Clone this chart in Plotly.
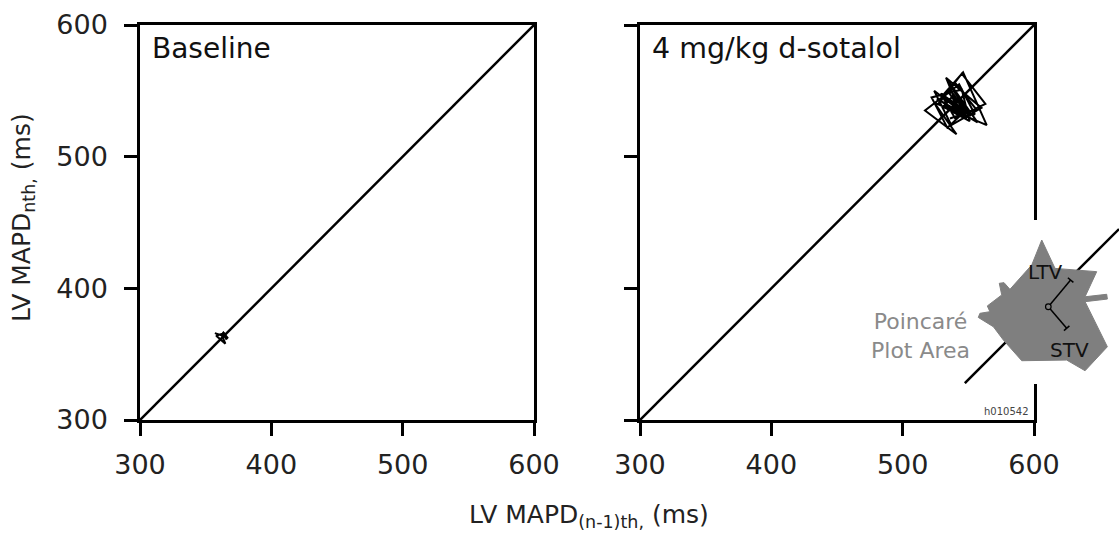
import plotly.graph_objects as go

# ---- data -------------------------------------------------------------
# consecutive LV MAPD values (ms); each point is (MAPD[n-1], MAPD[n])
baseline_mapd = [357, 366, 363, 367, 362, 365, 358, 364, 366, 362, 365, 363, 366, 361]
sotalol_mapd = [538, 552, 531, 545, 563, 540, 529, 548, 535, 557, 526, 544, 533,
                560, 537, 524, 550, 530, 546, 564, 524, 541, 517, 535, 549, 528,
                543, 555, 532, 539, 547, 534, 522, 545, 551, 527, 540, 556, 536, 529]

axis_ticks = [300, 400, 500, 600]
axis_range = [300, 600]

# schematic Poincaré area (inset units 0-10)
area_u = [5.29, 6.10, 8.64, 7.93, 9.25, 9.29, 7.93, 9.29, 7.93, 6.81, 4.07, 2.95,
          2.34, 1.42, 1.52, 2.13, 1.97, 2.85, 2.70, 2.99, 3.35, 4.68]
area_v = [8.78, 7.05, 6.85, 5.32, 5.47, 5.18, 5.02, 2.27, 0.81, 1.46, 1.42, 2.68,
          3.49, 4.06, 4.31, 4.41, 4.76, 5.43, 6.14, 6.18, 5.77, 7.26]
identity_u = [0.6, 10.0]
identity_v = [0.05, 9.45]
centre_uv = (5.69, 4.71)
ltv_end = (7.05, 6.34)
stv_end = (6.81, 3.40)

FONT = "DejaVu Sans"
W, H = 1119, 539


def px(x):
    return x / W


def py(y):
    return 1 - y / H


fig = go.Figure()

for mapd, xa, ya in [(baseline_mapd, "x", "y"), (sotalol_mapd, "x2", "y2")]:
    # line of identity
    fig.add_trace(go.Scatter(x=axis_range, y=axis_range, mode="lines",
                             line=dict(color="black", width=2.5),
                             xaxis=xa, yaxis=ya, hoverinfo="skip"))
    fig.add_trace(go.Scatter(x=mapd[:-1], y=mapd[1:], mode="lines",
                             line=dict(color="black", width=2),
                             xaxis=xa, yaxis=ya))

axis_common = dict(range=axis_range, tickvals=axis_ticks, showgrid=False,
                   zeroline=False, showline=True, mirror=True, automargin=False,
                   linecolor="black", linewidth=2.5, ticks="outside",
                   ticklen=13, tickwidth=2.5, tickcolor="black",
                   tickfont=dict(family=FONT, size=27, color="#222"))

fig.update_layout(
    width=W, height=H,
    margin=dict(l=0, r=0, t=0, b=0, pad=0, autoexpand=False),
    paper_bgcolor="white", plot_bgcolor="white",
    showlegend=False,
    xaxis=dict(domain=[px(140), px(534)], anchor="y", ticklabelstandoff=6, **axis_common),
    yaxis=dict(domain=[py(420), py(25)], anchor="x", ticklabelstandoff=11, **axis_common),
    xaxis2=dict(domain=[px(640), px(1034)], anchor="y2", ticklabelstandoff=6, **axis_common),
    yaxis2=dict(domain=[py(420), py(25)], anchor="x2", showticklabels=False, **axis_common),
    xaxis3=dict(domain=[px(955), 1.0], range=[0, 10], anchor="y3", visible=False),
    yaxis3=dict(domain=[py(384), py(220)], range=[0, 10], anchor="x3", visible=False),
)
fig.add_trace(go.Scatter(x=[], y=[], xaxis="x3", yaxis="y3"))

# ---- inset schematic ---------------------------------------------------
shapes = []
# gap in the right-hand frame behind the schematic
shapes.append(dict(type="rect", xref="paper", yref="paper", layer="above",
                   x0=px(1028), x1=px(1040), y0=py(372), y1=py(227),
                   fillcolor="white", line=dict(width=0)))
shapes.append(dict(type="line", xref="x3", yref="y3", layer="above",
                   x0=identity_u[0], y0=identity_v[0], x1=identity_u[1], y1=identity_v[1],
                   line=dict(color="black", width=2.5)))
path = "M " + " L ".join(f"{u},{v}" for u, v in zip(area_u, area_v)) + " Z"
shapes.append(dict(type="path", xref="x3", yref="y3", layer="above", path=path,
                   fillcolor="#7f7f7f", line=dict(color="#7f7f7f", width=1)))
cu, cv = centre_uv
for eu, ev in (ltv_end, stv_end):
    shapes.append(dict(type="line", xref="x3", yref="y3", layer="above",
                       x0=cu, y0=cv, x1=eu, y1=ev, line=dict(color="black", width=1.5)))
    du, dv = eu - cu, ev - cv
    n = (du ** 2 + dv ** 2) ** 0.5
    pu, pv = -dv / n * 0.22, du / n * 0.22
    shapes.append(dict(type="line", xref="x3", yref="y3", layer="above",
                       x0=eu - pu, y0=ev - pv, x1=eu + pu, y1=ev + pv,
                       line=dict(color="black", width=1.5)))
shapes.append(dict(type="circle", xref="x3", yref="y3", layer="above",
                   x0=cu - 0.17, x1=cu + 0.17, y0=cv - 0.17, y1=cv + 0.17,
                   fillcolor="#7f7f7f", line=dict(color="black", width=1.2)))
fig.update_layout(shapes=shapes)

ann = []
ann.append(dict(text="Baseline", x=px(150), y=py(48), xref="paper", yref="paper",
                xanchor="left", yanchor="middle", showarrow=False,
                font=dict(family=FONT, size=28, color="#111")))
ann.append(dict(text="4 mg/kg d-sotalol", x=px(650), y=py(48), xref="paper", yref="paper",
                xanchor="left", yanchor="middle", showarrow=False,
                font=dict(family=FONT, size=28.5, color="#111")))
ann.append(dict(text="LV MAPD<sub>nth</sub><sub>,</sub> (ms)", x=px(23), y=py(218),
                xref="paper", yref="paper", textangle=-90, showarrow=False,
                xanchor="center", yanchor="middle",
                font=dict(family=FONT, size=25, color="#222")))
ann.append(dict(text="LV MAPD<sub>(n-1)th,</sub> (ms)", x=px(589), y=py(516),
                xref="paper", yref="paper", showarrow=False,
                xanchor="center", yanchor="middle",
                font=dict(family=FONT, size=25, color="#222")))
ann.append(dict(text="Poincaré<br>Plot Area", x=px(972), y=py(336), xref="paper", yref="paper",
                xanchor="right", yanchor="middle", align="center", showarrow=False,
                font=dict(family=FONT, size=22, color="#8a8a8a")))
ann.append(dict(text="LTV", x=5.49, y=6.85, xref="x3", yref="y3", showarrow=False,
                font=dict(family=FONT, size=20, color="#111")))
ann.append(dict(text="STV", x=7.01, y=2.07, xref="x3", yref="y3", showarrow=False,
                font=dict(family=FONT, size=20, color="#111")))
ann.append(dict(text="h010542", x=px(1031), y=py(411), xref="paper", yref="paper",
                xanchor="right", yanchor="middle", showarrow=False,
                font=dict(family=FONT, size=10, color="#444")))
fig.update_layout(annotations=ann)

fig.write_html("out.html")
